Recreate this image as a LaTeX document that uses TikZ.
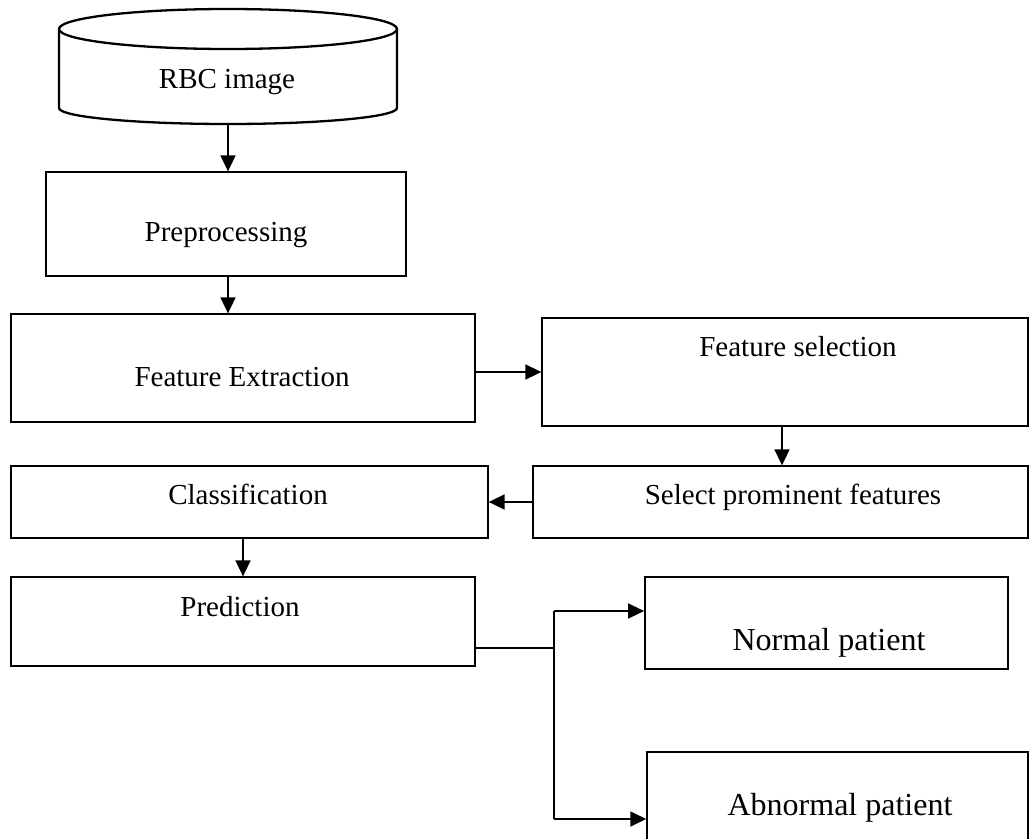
\documentclass[tikz,border=0pt]{standalone}
\usepackage{fontspec}
\setmainfont{Liberation Serif}
\usetikzlibrary{arrows.meta}
\begin{document}
\begin{tikzpicture}[x=1pt,y=-1pt,
  box/.style={draw, rectangle, line width=1.3pt, inner sep=0pt},
  txt/.style={inner sep=0pt, font=\fontsize{29}{34}\selectfont},
  bigtxt/.style={inner sep=0pt, font=\fontsize{32}{38}\selectfont},
  arr/.style={-{Triangle[length=16pt,width=15pt]}, line width=1.7pt},
  conn/.style={line width=1.7pt}]
\useasboundingbox (0,0) rectangle (1035,838);
\clip (0,0) rectangle (1035,838);
% cylinder
\node[inner sep=0pt, minimum width=338pt, minimum height=115pt] (rbc) at (228,66.5) {};
\draw[line width=2.3pt] (228,29) ellipse[x radius=169, y radius=20];
\draw[line width=2.3pt] (59,29) -- (59,108) arc[start angle=180, end angle=0, x radius=169, y radius=16] -- (397,29);
\node[txt] (rbctext) at (227,82) {RBC image};
% boxes
\node[box, minimum width=360pt, minimum height=104pt] (pre) at (226,224) {};
\node[txt] (pretext) at (226,235) {Preprocessing};
\node[box, minimum width=464pt, minimum height=108pt] (fe) at (243,368) {};
\node[txt] (fetext) at (242,377) {Feature Extraction};
\node[box, minimum width=486pt, minimum height=108pt] (fs) at (785,372) {};
\node[txt] (fstext) at (798,347) {Feature selection};
\node[box, minimum width=495pt, minimum height=72pt] (sp) at (780.5,502) {};
\node[txt] (sptext) at (793,497) {Select prominent features};
\node[box, minimum width=477pt, minimum height=72pt] (cl) at (249.5,502) {};
\node[txt] (cltext) at (248,494.5) {Classification};
\node[box, minimum width=464pt, minimum height=89pt] (pr) at (243,621.5) {};
\node[txt] (prtext) at (240,607) {Prediction};
\node[box, line width=1.8pt, minimum width=363pt, minimum height=92pt] (np) at (826.5,623) {};
\node[bigtxt] (nptext) at (829,643) {Normal patient};
\node[box, line width=1.5pt, minimum width=381pt, minimum height=114pt] (ap) at (837.5,809) {};
\node[bigtxt] (aptext) at (840,808) {Abnormal patient};
% connectors
\draw[arr] (rbc.south -| pre.north) ++(2,0) coordinate (r1) -- (r1 |- pre.north);
\draw[arr] (pre.south) ++(2,0) coordinate (p1) -- (p1 |- fe.north);
\draw[arr] (fe.east |- fs.west) -- (fs.west);
\draw[arr] (fs.south) ++(-3,0) coordinate (f1) -- (f1 |- sp.north);
\draw[arr] (sp.west) -- (cl.east);
\draw[arr] (pr.north |- cl.south) -- (pr.north);
\coordinate (j1) at (554,648);
\coordinate (jt) at (554,611);
\coordinate (jb) at (554,819);
\draw[conn] (pr.east |- j1) -- (j1);
\draw[conn] (jt) -- (jb);
\draw[arr] (jt) -- (np.west |- jt);
\draw[arr] (jb) -- (ap.west |- jb);
\end{tikzpicture}
\end{document}
